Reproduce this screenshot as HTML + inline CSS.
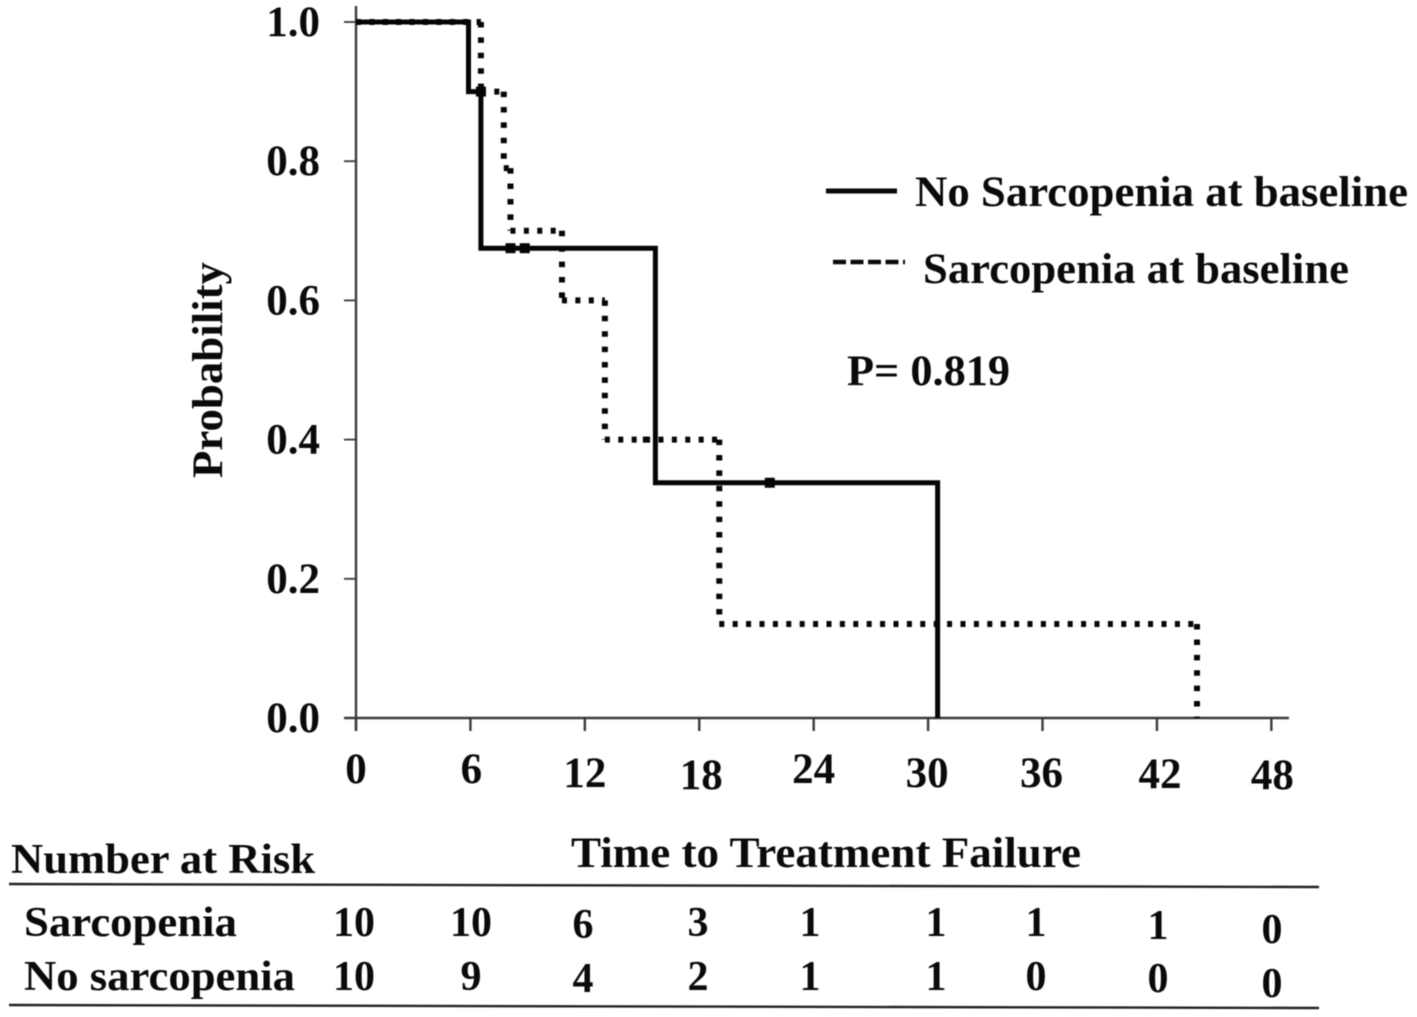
<!DOCTYPE html>
<html lang="en">
<head>
<meta charset="utf-8">
<title>Time to Treatment Failure by Sarcopenia at Baseline</title>
<style>
html,body{margin:0;padding:0;background:#fff;}
body{width:1417px;height:1017px;overflow:hidden;}
svg{display:block;filter:blur(0.5px);}
text{font-family:"Liberation Serif",serif;font-weight:700;font-size:43px;fill:#0a0a0a;}
.tbl{font-size:42px;}
</style>
</head>
<body>
<svg id="chart" xmlns="http://www.w3.org/2000/svg" width="1417" height="1017" viewBox="0 0 1417 1017">
  <g id="axes"></g>
  <g id="series"></g>

  <text transform="translate(222,478) rotate(-90)" textLength="216" lengthAdjust="spacingAndGlyphs">Probability</text>

  <g>
    <line x1="826" x2="897" y1="191" y2="191" stroke="#0a0a0a" stroke-width="5"/>
    <text x="915" y="206" textLength="493" lengthAdjust="spacingAndGlyphs">No Sarcopenia at baseline</text>
    <line x1="833" x2="905" y1="262" y2="262" stroke="#0a0a0a" stroke-width="4.5" stroke-dasharray="13 4.5"/>
    <text x="923" y="283" textLength="426" lengthAdjust="spacingAndGlyphs">Sarcopenia at baseline</text>
  </g>
  <text x="847" y="385" textLength="163" lengthAdjust="spacingAndGlyphs">P= 0.819</text>

  <text x="571" y="867" textLength="510" lengthAdjust="spacingAndGlyphs">Time to Treatment Failure</text>

  <g>
    <text class="tbl" x="11" y="873" textLength="304" lengthAdjust="spacingAndGlyphs">Number at Risk</text>
    <line x1="9" y1="884" x2="1319" y2="887" stroke="#222" stroke-width="2.4"/>
    <line x1="9" y1="1005" x2="1319" y2="1008" stroke="#222" stroke-width="2.4"/>
    <text class="tbl" x="24" y="936" textLength="213" lengthAdjust="spacingAndGlyphs">Sarcopenia</text>
    <text class="tbl" x="24" y="990" textLength="271" lengthAdjust="spacingAndGlyphs">No sarcopenia</text>
    <g text-anchor="middle">
      <text class="tbl" x="354" y="936">10</text>
      <text class="tbl" x="471" y="936">10</text>
      <text class="tbl" x="583" y="938">6</text>
      <text class="tbl" x="698" y="936">3</text>
      <text class="tbl" x="810" y="936">1</text>
      <text class="tbl" x="936" y="936">1</text>
      <text class="tbl" x="1036" y="936">1</text>
      <text class="tbl" x="1158" y="939">1</text>
      <text class="tbl" x="1272" y="943">0</text>
    </g>
    <g text-anchor="middle">
      <text class="tbl" x="354" y="990">10</text>
      <text class="tbl" x="471" y="990">9</text>
      <text class="tbl" x="583" y="992">4</text>
      <text class="tbl" x="698" y="990">2</text>
      <text class="tbl" x="810" y="990">1</text>
      <text class="tbl" x="936" y="990">1</text>
      <text class="tbl" x="1036" y="990">0</text>
      <text class="tbl" x="1158" y="992">0</text>
      <text class="tbl" x="1272" y="997">0</text>
    </g>
  </g>
</svg>
<script>
// Chart data
const xTicks = [0, 6, 12, 18, 24, 30, 36, 42, 48];
const yTicks = [0, 0.2, 0.4, 0.6, 0.8, 1.0];
const yTickLabels = ['0.0', '0.2', '0.4', '0.6', '0.8', '1.0'];

// Kaplan-Meier step series: time of each step and survival after it
const noSarcopeniaTimes = [0, 5.9, 6.55, 15.7, 30.5];
const noSarcopeniaSurvival = [1.0, 0.9, 0.675, 0.338, 0];
const sarcopeniaTimes = [0, 6.55, 7.75, 8.1, 10.8, 13.05, 19.05, 44.1];
const sarcopeniaSurvival = [1.0, 0.9, 0.79, 0.70, 0.60, 0.40, 0.135, 0];

// Censoring marks
const noSarcopeniaCensorTimes = [6.55, 8.1, 8.85, 21.7];
const noSarcopeniaCensorSurvival = [0.9, 0.675, 0.675, 0.338];
const sarcopeniaCensorTimes = [15.2];
const sarcopeniaCensorSurvival = [0.40];

// Axis functions
const xScale = t => 356 + t * 19.07;
const yScale = p => 718 - p * 696;

const NS = 'http://www.w3.org/2000/svg';
const axesGroup = document.getElementById('axes');
const seriesGroup = document.getElementById('series');

function make(parent, tag, attrs) {
  const el = document.createElementNS(NS, tag);
  for (const k in attrs) el.setAttribute(k, attrs[k]);
  parent.appendChild(el);
  return el;
}

// Axis lines
const yAxisLine = make(axesGroup, 'line', {x1: 356, x2: 356, y1: 6, y2: 731, stroke: '#3a3a3a', 'stroke-width': 2.4});


const xAxisLine = make(axesGroup, 'line', {x1: 344, x2: 1289, y1: 718, y2: 718, stroke: '#3a3a3a', 'stroke-width': 2.4});



// X ticks and labels
xTicks.forEach((t, i) => {
  const tick = make(axesGroup, 'line', {x1: xScale(t), x2: xScale(t), y1: 718, y2: 731, stroke: '#3a3a3a', 'stroke-width': 2.4});
  
  
  const label = make(axesGroup, 'text', {x: xScale(t) + [0, 1, 0, 2, 0, -1, -1, 3, 1][i], y: 783 + [0, 0, 4, 6, 0, 4, 4, 5, 6][i], 'text-anchor': 'middle'});
  label.textContent = String(t);
  
  
});

// Y ticks and labels
yTicks.forEach((p, i) => {
  const tick = make(axesGroup, 'line', {x1: 344, x2: 356, y1: yScale(p), y2: yScale(p), stroke: '#3a3a3a', 'stroke-width': 1.8});
  
  
  const label = make(axesGroup, 'text', {x: 320, y: yScale(p) + 14, 'text-anchor': 'end'});
  label.textContent = yTickLabels[i];
  
  
});

// Step vertices from parallel arrays
function stepSegments(times, survival) {
  const segs = [];
  for (let i = 0; i < times.length - 1; i++) {
    segs.push([times[i], survival[i], times[i + 1], survival[i]]);
    segs.push([times[i + 1], survival[i], times[i + 1], survival[i + 1]]);
  }
  return segs;
}

// Solid curve
let solidPath = '';
stepSegments(noSarcopeniaTimes, noSarcopeniaSurvival).forEach((s, i) => {
  solidPath += (i === 0 ? 'M' + xScale(s[0]) + ' ' + yScale(s[1]) : '') + ' L' + xScale(s[2]) + ' ' + yScale(s[3]);
});
const solidCurve = make(seriesGroup, 'path', {d: solidPath, fill: 'none', stroke: '#050505', 'stroke-width': 5, 'stroke-linejoin': 'miter'});



// Dotted curve: each run gets its own dash phase so dots begin at the corner
const dottedCurve = make(seriesGroup, 'g', {});


stepSegments(sarcopeniaTimes, sarcopeniaSurvival).forEach(s => {
  const isVertical = s[0] === s[2];
  make(dottedCurve, 'line', {
    x1: xScale(s[0]), y1: yScale(s[1]), x2: xScale(s[2]), y2: yScale(s[3]),
    stroke: '#050505', 'stroke-width': 6,
    'stroke-dasharray': isVertical ? '5.5 9.9' : '5 8.4'
  });
});

// Censor marks
function drawCensors(times, survival, name, size) {
  times.forEach((t, i) => {
    const mark = make(seriesGroup, 'rect', {x: xScale(t) - size / 2, y: yScale(survival[i]) - size / 2, width: size, height: size, fill: '#050505'});
    
    
  });
}
drawCensors(noSarcopeniaCensorTimes, noSarcopeniaCensorSurvival, 'censor-no-sarcopenia', 10);
drawCensors(sarcopeniaCensorTimes, sarcopeniaCensorSurvival, 'censor-sarcopenia', 6);
</script>
</body>
</html>
